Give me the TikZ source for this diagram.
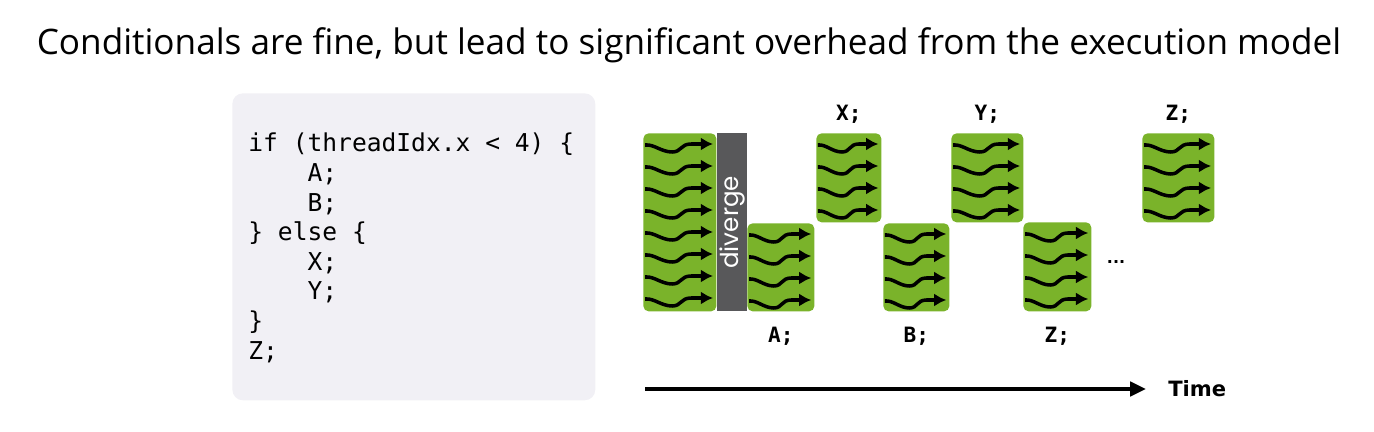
\documentclass[tikz,border=0pt]{standalone}
\usepackage{fontspec}
\setmainfont{Open Sans}
\setmonofont{DejaVu Sans Mono}
\newfontfamily\labelfont{DejaVu Sans}
\newfontfamily\divfont{Poppins}
\usepackage{tikz}
\usetikzlibrary{positioning,arrows.meta}
\definecolor{warpgreen}{RGB}{122,179,42}
\definecolor{divgray}{RGB}{88,88,90}
\definecolor{codebg}{RGB}{241,240,245}
\tikzset{blk/.style={fill=warpgreen, rounded corners=3pt, inner sep=0, anchor=north west},
  lbl/.style={font=\ttfamily\bfseries\fontsize{12}{14}\selectfont, inner sep=0},
  codetxt/.style={font=\ttfamily\fontsize{14}{16}\selectfont, inner sep=0, anchor=base west},
  wv/.style={line width=2pt, -{Latex[length=7pt,width=7.5pt]}}}

\begin{document}
\begin{tikzpicture}[x=0.02cm,y=-0.02cm]
    \useasboundingbox (0,0) rectangle (1374,432);
    \node (title) at (689,45) {\fontsize{20}{23}\selectfont Conditionals are fine, but lead to significant overhead from the execution model};

    % code listing
    \node[fill=codebg, rounded corners=6pt, inner sep=0, minimum width=7.26cm, minimum height=6.14cm, anchor=north west] (codebox) at (232,93) {};
    \foreach \ln [count=\i from 0] in {if (threadIdx.x < 4) \{, \phantom{0000}A;, \phantom{0000}B;, \} else \{, \phantom{0000}X;, \phantom{0000}Y;, \}, Z;}
    {
      \node[codetxt] (code\i) at (248,{152+29.6*\i}) {\ln};
    }

    % warps over time
    \foreach \nm/\x/\y/\w/\h/\rows in {S/643/133/73/178/8, A/747/223/67/88/4, X/816/133/65/89/4, B/883/223/66/88/4, Y/951/133/72/89/4, Za/1023/222/68/89/4, Zb/1142/133/72/89/4}
    {
      \node[blk, minimum width=\w*0.02cm, minimum height=\h*0.02cm] (blk\nm) at (\x,\y) {};
      \foreach \r in {1,...,\rows}
      {
        \pgfmathsetmacro\yy{\y+11+22*(\r-1)}
        \draw[wv] ({\x+0.03*\w},{\yy+1}) .. controls ({\x+0.15*\w},{\yy}) and ({\x+0.25*\w},{\yy+8}) .. ({\x+0.4*\w},{\yy+8})
          .. controls ({\x+0.53*\w},{\yy+8}) and ({\x+0.51*\w},{\yy}) .. ({\x+0.66*\w},{\yy}) -- ({\x+0.96*\w},{\yy});
      }
    }
    \node[fill=divgray, inner sep=0, minimum width=0.6cm, minimum height=3.56cm, anchor=north west] (div) at (717,133) {};
    \node[rotate=90, text=white, inner sep=0, font=\divfont\fontsize{14}{16}\selectfont] (divtxt) at (div.center) {diverge};

    \node[lbl, above=0.18cm of blkX] (lblX) {X;};
    \node[lbl, above=0.18cm of blkY] (lblY) {Y;};
    \node[lbl, above=0.18cm of blkZb] (lblZb) {Z;};
    \node[lbl, below=0.3cm of blkA] (lblA) {A;};
    \node[lbl, below=0.3cm of blkB] (lblB) {B;};
    \node[lbl, below=0.3cm of blkZa] (lblZa) {Z;};
    \node[font=\labelfont\bfseries\fontsize{9}{10}\selectfont, inner sep=0] (dots) at (1116,262) {...};

    % time axis
    \coordinate (tstart) at (645,389);
    \coordinate (tend) at (1146,389);
    \node[font=\labelfont\bfseries\fontsize{12}{14}\selectfont, inner sep=0, right=0.44cm of tend] (time) {Time};
    \draw[line width=2.2pt, -{Triangle[length=9pt,width=8pt]}] (tstart) -- (tend);
\end{tikzpicture}
\end{document}
